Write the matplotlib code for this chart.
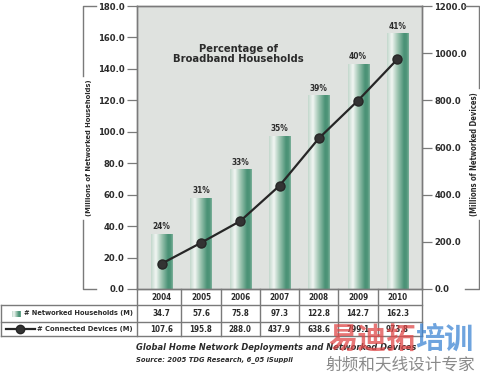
"""Global home network deployments: bars + line with data table underneath."""
import matplotlib
matplotlib.use("Agg")
import matplotlib.pyplot as plt
import numpy as np
from matplotlib.colors import LinearSegmentedColormap
from matplotlib.transforms import blended_transform_factory
from matplotlib.lines import Line2D

plt.rcParams["font.family"] = ["DejaVu Sans"]
plt.rcParams["font.stretch"] = "condensed"
plt.rcParams["font.weight"] = "bold"

YEARS = ["2004", "2005", "2006", "2007", "2008", "2009", "2010"]
HOUSEHOLDS = [34.7, 57.6, 75.8, 97.3, 122.8, 142.7, 162.3]
DEVICES = [107.6, 195.8, 288.0, 437.9, 638.6, 799.1, 973.8]
BROADBAND_PCT = ["24%", "31%", "33%", "35%", "39%", "40%", "41%"]

W, H = 480, 377
BG = "#dfe2df"
SPINE = "#7a7a7a"
TXT = "#2b2b2b"
K = 1.12   # reference font is narrower than ours: allow a bit more width

bar_cmap = LinearSegmentedColormap.from_list(
    "bar", [(0.0, "#c3d8cd"), (0.22, "#f2f6f3"), (0.45, "#a8cbb9"),
            (0.78, "#4a9276"), (0.9, "#4f9579"), (1.0, "#7cb09a")])


def fx(px):
    return px / W


def fy(py):
    return 1 - py / H


fig = plt.figure(figsize=(4.8, 3.77), dpi=100)
to_fit = []   # (texts, reference text, target px, vertical)


def fit(texts, target, vertical=False, ref=None):
    to_fit.append((texts, ref, target, vertical))


ax = fig.add_axes([fx(137), fy(289), fx(285), 283 / H])
ax.set_facecolor(BG)

x = np.arange(len(YEARS))
bw = 0.535
grad = bar_cmap(np.linspace(0, 1, 64))[None, :, :]
pct = []
for i, v in enumerate(HOUSEHOLDS):
    ax.imshow(grad, extent=[i - bw / 2, i + bw / 2, 0, v], aspect="auto",
              zorder=2, interpolation="bilinear")
    pct.append(ax.text(i, v + 2.0, BROADBAND_PCT[i], ha="center", va="bottom",
                       fontsize=8.5, color=TXT))
fit(pct, 16 * K)

ax.set_xlim(-0.63, 6.63)
ax.set_ylim(0, 180)
ax.set_yticks(np.arange(0, 181, 20))
ax.set_yticklabels([f"{t:.1f}" for t in np.arange(0, 181, 20)])
ax.set_xticks([])
ax.tick_params(axis="y", direction="out", length=7.5, width=0.9,
               color=SPINE, labelsize=8, labelcolor=TXT, pad=1.5)
for s in ax.spines.values():
    s.set_color(SPINE)
    s.set_linewidth(1.0)

ax2 = ax.twinx()
ax2.plot(x, DEVICES, color="#262626", lw=1.6, marker="o", ms=6.5,
         markerfacecolor="#333333", markeredgecolor="#262626", zorder=5)
ax2.set_ylim(0, 1200)
ax2.set_yticks(np.arange(0, 1201, 200))
ax2.set_yticklabels([f"{t:.1f}" for t in np.arange(0, 1201, 200)])
ax2.tick_params(axis="y", direction="out", length=7.5, width=0.9,
                color=SPINE, labelsize=8, labelcolor=TXT, pad=1.5)
for s in ax2.spines.values():
    s.set_color(SPINE)
    s.set_linewidth(1.0)

ttl = ax.text(0.355, 0.83, "Percentage of\nBroadband Households",
              transform=ax.transAxes, ha="center", va="center", fontsize=10,
              color=TXT, linespacing=0.95)
fit([ttl], 117 * K)


# axis-title brackets
def bracket(xv, xh, gap0, gap1, label, xl):
    kw = dict(color=SPINE, lw=1.0, transform=fig.transFigure)
    fig.add_artist(Line2D([fx(xh), fx(xv), fx(xv)], [fy(6), fy(6), fy(gap0)], **kw))
    fig.add_artist(Line2D([fx(xh), fx(xv), fx(xv)], [fy(289), fy(289), fy(gap1)], **kw))
    return fig.text(fx(xl), fy((gap0 + gap1) / 2), label, rotation=90,
                    ha="center", va="center", fontsize=7.2, color=TXT)


fit([bracket(83, 96, 76, 220, "(Millions of Networked Households)", 89)], 136, True)
fit([bracket(479, 465, 88, 220, "(Millions of Networked Devices)", 474)], 124, True)

# data table
bt = blended_transform_factory(ax.transData, fig.transFigure)
lk = dict(color=SPINE, lw=1.0, clip_on=False)
rows_y = [289, 305, 322, 336]
for b in x[:-1] + 0.5:
    fig.add_artist(Line2D([b, b], [fy(289), fy(336)], transform=bt, **lk))
for edge in (-0.63, 6.63):
    fig.add_artist(Line2D([edge, edge], [fy(289), fy(336)], transform=bt, **lk))
for ry in rows_y[1:]:
    fig.add_artist(Line2D([fx(0.5), fx(422)], [fy(ry), fy(ry)],
                          transform=fig.transFigure, **lk))
fig.add_artist(Line2D([fx(0.5), fx(0.5)], [fy(305), fy(336)],
                      transform=fig.transFigure, **lk))

cells = []
for i in range(len(YEARS)):
    cells.append(fig.text(i, fy(297), YEARS[i], transform=bt, ha="center",
                          va="center", fontsize=8, color=TXT))
    cells.append(fig.text(i, fy(313.5), f"{HOUSEHOLDS[i]:.1f}", transform=bt,
                          ha="center", va="center", fontsize=8, color=TXT))
    cells.append(fig.text(i, fy(329), f"{DEVICES[i]:.1f}", transform=bt,
                          ha="center", va="center", fontsize=8, color=TXT))
fit(cells, 18 * K)   # sized on "2004"

# legend cells
sw = fig.add_axes([fx(12), fy(317), fx(9), 6 / H])
sw.imshow(grad, aspect="auto", interpolation="bilinear")
sw.axis("off")
l1 = fig.text(fx(133), fy(313.5), "# Networked Households (M)", ha="right",
              va="center", fontsize=7.6, color=TXT)
fig.add_artist(Line2D([fx(6), fx(35)], [fy(329), fy(329)], color="#262626",
                      lw=1.6, transform=fig.transFigure))
fig.add_artist(Line2D([fx(20)], [fy(329)], color="#262626", marker="o", ms=6,
                      markerfacecolor="#333333", transform=fig.transFigure))
l2 = fig.text(fx(133), fy(329), "# Connected Devices (M)", ha="right",
              va="center", fontsize=7.6, color=TXT)
fit([l1], 110)
fit([l2], 95)

# caption
c1 = fig.text(fx(136), fy(348), "Global Home Network Deployments and Networked Devices",
              ha="left", va="center", fontsize=9.5, style="italic", color=TXT)
c2 = fig.text(fx(136), fy(360), "Source: 2005 TDG Research, 6_05 iSuppli",
              ha="left", va="center", fontsize=7, style="italic", color=TXT)
fit([c1], 282)
fit([c2], 155)

# watermark
cjk = ["Noto Sans CJK SC", "DejaVu Sans"]
fig.text(fx(328), fy(339), "易迪拓", family=cjk, fontsize=21, color="#e04848",
         alpha=0.75, ha="left", va="center", weight="bold", stretch="normal")
fig.text(fx(415), fy(339), "培训", family=cjk, fontsize=21, color="#3f86d4",
         alpha=0.75, ha="left", va="center", weight="bold", stretch="normal")
fig.text(fx(326), fy(365), "射频和天线设计专家", family=cjk, fontsize=12,
         color="#8a8a8a", ha="left", va="center", weight="normal", stretch="normal")

# scale texts to the widths measured on the reference
fig.canvas.draw()
lt = ax.get_yticklabels()
rt = ax2.get_yticklabels()
fit(lt + rt, 24 * K, ref=[t for t in lt if t.get_text() == "180.0"][0])
for _ in range(2):
    r = fig.canvas.get_renderer()
    for texts, ref, target, vertical in to_fit:
        ref = ref if ref is not None else texts[0]
        bb = ref.get_window_extent(r)
        size = bb.height if vertical else bb.width
        fs = ref.get_fontsize() * target / size
        for t in texts:
            t.set_fontsize(fs)
    fig.canvas.draw()

fig.savefig("out.png", dpi=100, facecolor="white")
